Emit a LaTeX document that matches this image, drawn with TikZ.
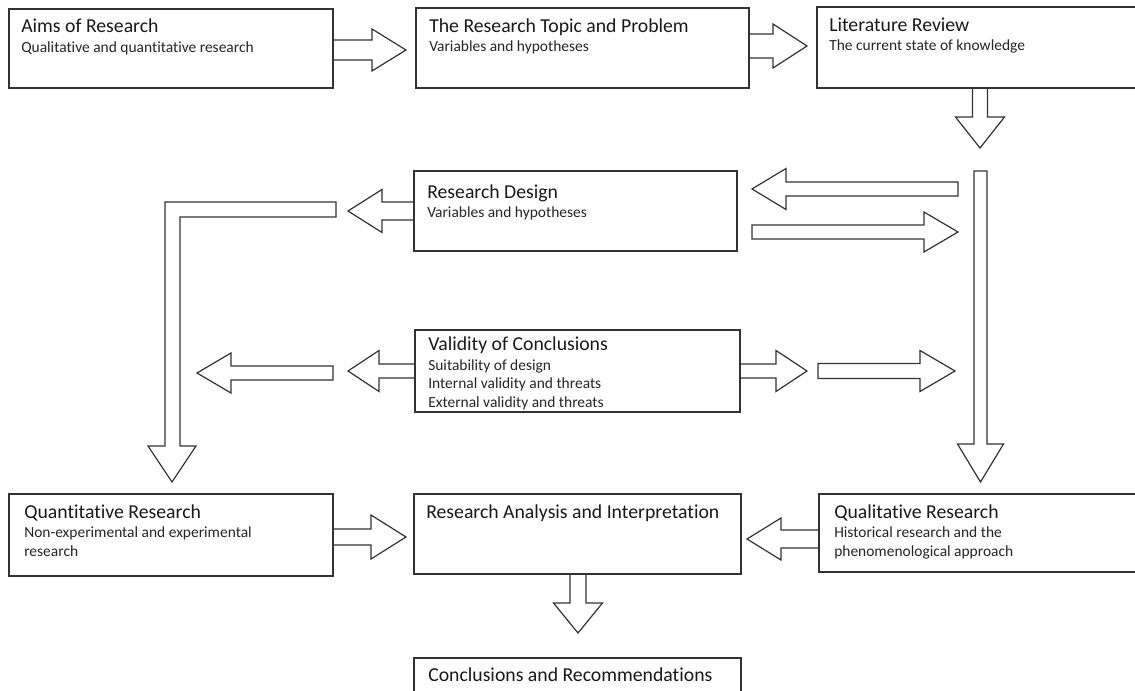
\documentclass[tikz,border=0pt]{standalone}
\usepackage{fontspec}
\setmainfont{Carlito}[Ligatures={NoCommon}]
\usetikzlibrary{fit}
\tikzset{
  box/.style={draw=black!80, line width=0.9pt, inner sep=0pt},
  blk/.style={draw=black!80, line width=0.9pt, line join=miter},
  ttl/.style={anchor=base west, inner sep=0pt, font=\fontsize{14.8}{17}\selectfont, text=black!90},
  sub/.style={anchor=base west, inner sep=0pt, font=\fontsize{11.6}{14}\selectfont, text=black!85},
}
% horizontal block arrow: start x, head-base x, tip x, centre y, shaft half, head half
\newcommand\harr[6]{%
  \draw[blk] (#1,#4-#5) -- (#2,#4-#5) -- (#2,#4-#6) -- (#3,#4) -- (#2,#4+#6) -- (#2,#4+#5) -- (#1,#4+#5) -- cycle;}
% vertical block arrow: start y, head-base y, tip y, centre x, shaft half, head half
\newcommand\varr[6]{%
  \draw[blk] (#4-#5,#1) -- (#4-#5,#2) -- (#4-#6,#2) -- (#4,#3) -- (#4+#6,#2) -- (#4+#5,#2) -- (#4+#5,#1) -- cycle;}
\begin{document}
\begin{tikzpicture}[x=0.75pt, y=-0.75pt]
\useasboundingbox (0,0) rectangle (1135,691);
\clip (0,0) rectangle (1135,691);
\fill[white] (0,0) rectangle (1135,691);

% boxes
\node[box, fit={(9,9) (333,88)}] (aims) {};
\node[box, fit={(416,8) (749,88)}] (topic) {};
\node[box, fit={(817,7) (1150,88)}] (lit) {};
\node[box, fit={(414,171) (737,251)}] (design) {};
\node[box, fit={(415,330) (740,412)}] (valid) {};
\node[box, fit={(9,494) (333,576)}] (quant) {};
\node[box, fit={(414,494) (741,574)}] (anal) {};
\node[box, fit={(819,494) (1150,572)}] (qual) {};
\node[box, fit={(414,658) (741,710)}] (concl) {};

% texts
\node[ttl] (aimsT) at (21,33) {Aims of Research};
\node[sub] (aimsS) at (21,53) {Qualitative and quantitative research};
\node[ttl] (topicT) at (429,33) {The Research Topic and Problem};
\node[sub] (topicS) at (429,52) {Variables and hypotheses};
\node[ttl] (litT) at (829,32) {Literature Review};
\node[sub] (litS) at (829,51) {The current state of knowledge};
\node[ttl] (designT) at (427,199) {Research Design};
\node[sub] (designS) at (427,218) {Variables and hypotheses};
\node[ttl] (validT) at (428,351) {Validity of Conclusions};
\node[sub] (validA) at (428,371) {Suitability of design};
\node[sub] (validB) at (428,389) {Internal validity and threats};
\node[sub] (validC) at (428,407) {External validity and threats};
\node[ttl] (quantT) at (24,518) {Quantitative Research};
\node[sub] (quantA) at (24,537) {Non-experimental and experimental};
\node[sub] (quantB) at (24,556) {research};
\node[ttl] (analT) at (426,518) {Research Analysis and Interpretation};
\node[ttl] (qualT) at (834,518) {Qualitative Research};
\node[sub] (qualA) at (834,537) {Historical research and the};
\node[sub] (qualB) at (834,556) {phenomenological approach};
\node[ttl] (conclT) at (428,681) {Conclusions and Recommendations};

% top row arrows
\harr{333}{372}{406}{50}{10}{21}
\harr{749}{773}{807}{46}{12}{22}
\varr{88}{117}{148}{980}{7.5}{24.5}

% right long vertical
\varr{171}{444}{482}{980.5}{6.5}{23}

% design <-> right vertical
\harr{958}{786}{752}{189}{7}{20.5}
\harr{752}{924}{958}{232}{7}{20}
\harr{414}{382}{348}{211}{9}{21.5}

% L-shaped arrow on the left
\draw[blk] (336,202) -- (165,202) -- (165,446) -- (148,446) -- (172,482)
  -- (196,446) -- (180,446) -- (180,217) -- (336,217) -- cycle;

% validity arrows
\harr{333}{231}{197}{373}{7}{20}
\harr{415}{379}{348}{371}{7}{20.5}
\harr{740}{776}{807}{371}{7}{20.5}
\harr{818}{920}{955}{371}{7.5}{20.5}

% bottom row arrows
\harr{333}{371}{406}{537}{8}{22}
\harr{819}{781}{747}{539}{9}{21}
\varr{574}{603}{633}{578}{8}{24.5}
\end{tikzpicture}
\end{document}
